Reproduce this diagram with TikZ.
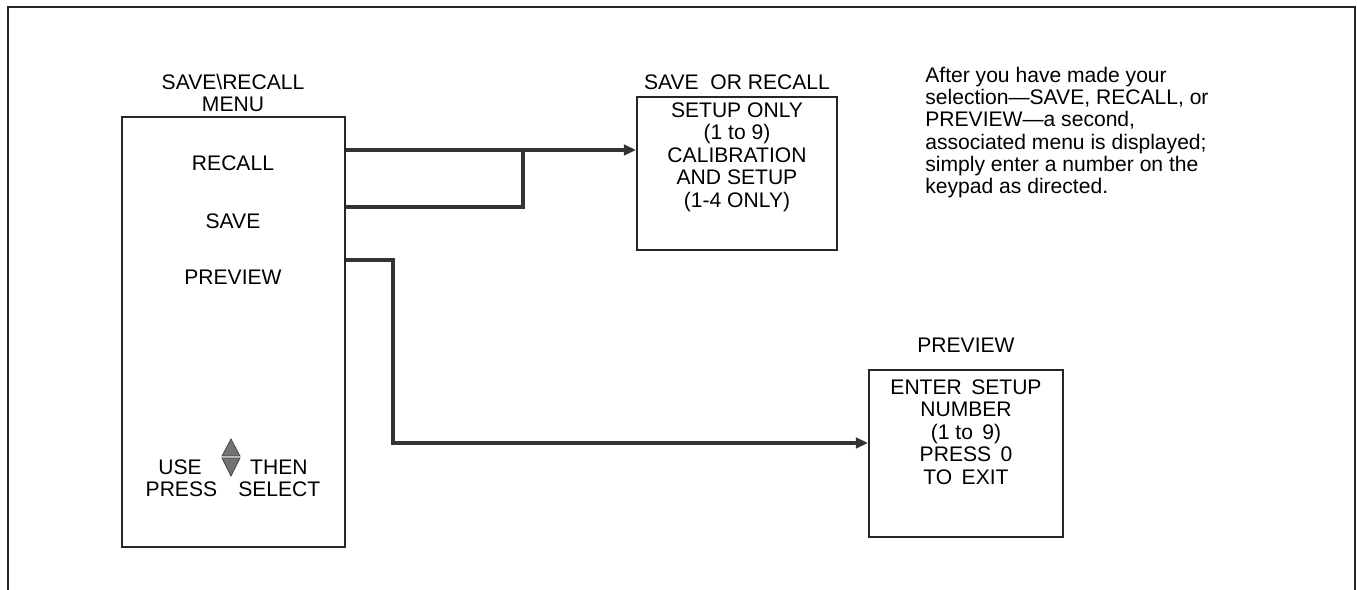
\documentclass[tikz,border=0pt]{standalone}
\usepackage{fontspec}
\setmainfont{Liberation Sans}
\usetikzlibrary{arrows.meta, positioning, calc}

\begin{document}
\begin{tikzpicture}[
        x=0.02cm, y=-0.02cm,
        >={Triangle[length=7pt, width=6pt]},
        frame/.style={draw=black!85, line width=1.2pt},
        menubox/.style={rectangle, draw=black!85, line width=1.1pt},
        txt/.style={font=\fontsize{12}{12.8}\selectfont, align=center, inner sep=0pt},
        note/.style={font=\fontsize{12}{12.6}\selectfont, align=left, anchor=north west, inner sep=0pt},
        conn/.style={draw=black!80, line width=2.2pt},
        tri/.style={fill=black!55, draw=black!75, line width=0.4pt}
    ]
        \useasboundingbox (0,0) rectangle (1357,590);

        % Outer frame
        \draw[frame] (8,590) |- (1355,7) -- (1355,590);

        % Save/Recall menu
        \node[txt] (mtitle) at (233,82) {SAVE\textbackslash RECALL};
        \node[txt] (mtitle2) at (233,104) {MENU};
        \node[menubox, minimum width=4.46cm, minimum height=8.6cm] (menu) at (233.5,332) {};

        \node[txt] (recall) at (233,163) {RECALL};
        \node[txt] (save) at (233,221) {SAVE};
        \node[txt] (preview) at (233,277) {PREVIEW};

        \node[txt] (use) at (233,478) {USE\hspace{2.3em}THEN\\PRESS\hspace{1em}SELECT};
        \coordinate (updn) at (231,457);
        \draw[tri] ($(updn)+(-9,-1)$) -- ($(updn)+(9,-1)$) -- ($(updn)+(0,-18)$) -- cycle;
        \draw[tri] ($(updn)+(-9,1)$) -- ($(updn)+(9,1)$) -- ($(updn)+(0,19)$) -- cycle;

        % Save or recall submenu
        \node[txt] (srtitle) at (737,82) {SAVE\ \ OR RECALL};
        \node[menubox, minimum width=4cm, minimum height=3.06cm] (sr) at (737,173.5) {};
        \node[txt] (srtext) at (737,157) {SETUP ONLY\\(1 to 9)\\CALIBRATION\\AND SETUP\\(1-4 ONLY)};

        % Preview submenu
        \node[txt] (pvtitle) at (966,345) {PREVIEW};
        \node[menubox, minimum width=3.88cm, minimum height=3.34cm] (pv) at (966,453.5) {};
        \node[txt] (pvtext) at (966,432) {ENTER\, SETUP\\NUMBER\\(1 to\, 9)\\PRESS\, 0\\TO\, EXIT};

        % Note
        \node[note] (info) at (925,67) {After you have made your\\selection---SAVE, RECALL, or\\PREVIEW---a second,\\associated menu is displayed;\\simply enter a number on the\\keypad as directed.};

        % Connectors
        \draw[conn, ->] (menu.east |- 0,150) -- (sr.west |- 0,150);
        \draw[conn] (menu.east |- 0,207) -| (523,150);
        \draw[conn, ->] (menu.east |- 0,260) -| (393,443) -- (pv.west |- 0,443);

    \end{tikzpicture}
\end{document}
